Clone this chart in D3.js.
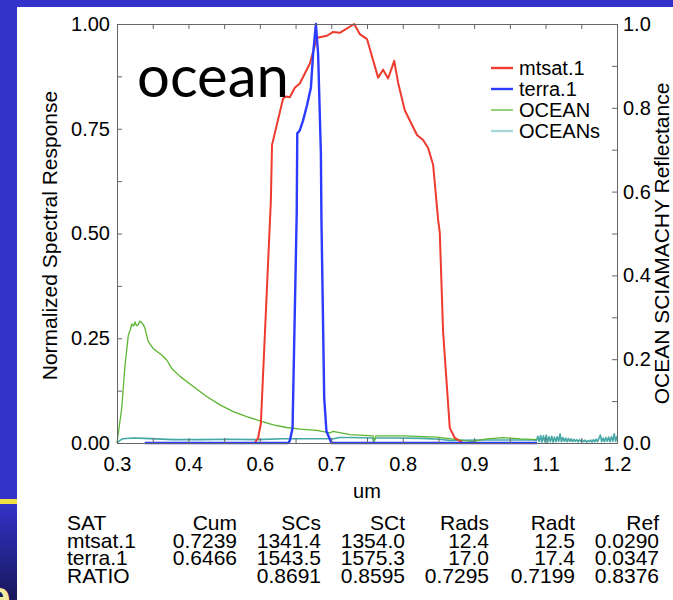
<!DOCTYPE html>
<html>
<head>
<meta charset="utf-8">
<script src="https://cdnjs.cloudflare.com/ajax/libs/d3/7.8.5/d3.min.js"></script>
<style>
	body { margin: 0; background: #fff; }
	svg text { font-family: "Liberation Sans", Arial, sans-serif; fill: #000; }
	.axis path, .axis line { stroke: #666; }
	.axis text { font-size: 20px; fill: #000; }
</style>
</head>
<body>
<div id="chartgoeshere"></div>
<script>
// Spectral response of mtsat.1 (wavelength um / normalized response)
var mtsatWl = [0.548, 0.554, 0.559, 0.577, 0.579, 0.599, 0.604, 0.611, 0.620, 0.629, 0.647, 0.660, 0.678, 0.689, 0.701, 0.727, 0.737, 0.750, 0.770, 0.779, 0.788, 0.799, 0.806, 0.818, 0.840, 0.851, 0.860, 0.869, 0.878, 0.881, 0.887, 0.899, 0.908, 0.923];
var mtsatResp = [0.000, 0.012, 0.047, 0.580, 0.711, 0.822, 0.827, 0.825, 0.848, 0.858, 0.905, 0.967, 0.972, 0.981, 0.979, 1.000, 0.976, 0.964, 0.872, 0.891, 0.870, 0.912, 0.860, 0.794, 0.735, 0.723, 0.704, 0.664, 0.533, 0.502, 0.265, 0.036, 0.012, 0.000];

// Spectral response of terra.1
var terraWl = [0.350, 0.608, 0.611, 0.616, 0.6235, 0.6245, 0.629, 0.635, 0.642, 0.649, 0.653, 0.658, 0.662, 0.667, 0.668, 0.673, 0.677, 0.686, 1.056];
var terraResp = [0.000, 0.000, 0.005, 0.036, 0.550, 0.739, 0.746, 0.770, 0.806, 0.848, 0.929, 1.000, 0.929, 0.692, 0.533, 0.107, 0.028, 0.000, 0.000];

// OCEAN SCIAMACHY reflectance
var oceanWl = [0.300, 0.3085, 0.3144, 0.3203, 0.3240, 0.3265, 0.3300, 0.3324, 0.3350, 0.3383, 0.3410, 0.3445, 0.3480, 0.3504, 0.3563, 0.3653, 0.3805, 0.3895, 0.3985, 0.4134, 0.4373, 0.4614, 0.4854, 0.5093, 0.5334, 0.5574, 0.5813, 0.6054, 0.6294, 0.6594, 0.6834, 0.6888, 0.7194, 0.7608, 0.7626, 0.7660, 0.8148, 0.8760, 0.9120, 0.9300, 0.9408, 0.9660, 0.9948, 1.0254, 1.0560];
var oceanRefl = [0.000, 0.083, 0.185, 0.257, 0.270, 0.284, 0.279, 0.289, 0.280, 0.282, 0.291, 0.287, 0.281, 0.273, 0.242, 0.225, 0.210, 0.198, 0.178, 0.159, 0.135, 0.111, 0.091, 0.075, 0.063, 0.053, 0.043, 0.037, 0.033, 0.030, 0.024, 0.028, 0.020, 0.017, 0.002, 0.017, 0.017, 0.014, 0.008, 0.005, 0.004, 0.010, 0.013, 0.010, 0.008];

// OCEANs reflectance
var oceansWl = [0.300, 0.305, 0.310, 0.330, 0.350, 0.400, 0.450, 0.500, 0.550, 0.600, 0.650, 0.690, 0.700, 0.720, 0.760, 0.762, 0.765, 0.800, 0.850, 0.880, 0.900, 0.950, 1.000, 1.050,
	1.0550, 1.0575, 1.0600, 1.0625, 1.0650, 1.0675, 1.0700, 1.0725, 1.0750, 1.0775, 1.0800, 1.0825, 1.0850, 1.0875, 1.0900, 1.0925, 1.0950, 1.0975, 1.1000, 1.1025,
	1.1050, 1.1075, 1.1100, 1.1125, 1.1150, 1.1175, 1.1200, 1.1225, 1.1250, 1.1275, 1.1300, 1.1325, 1.1350, 1.1375, 1.1400, 1.1425, 1.1450, 1.1475, 1.1500, 1.1525,
	1.1550, 1.1575, 1.1600, 1.1625, 1.1650, 1.1675, 1.1700, 1.1725, 1.1750, 1.1775, 1.1800, 1.1825, 1.1850, 1.1875, 1.1900, 1.1925, 1.1950, 1.1975, 1.2000];
var oceansRefl = [0.000, 0.006, 0.010, 0.012, 0.011, 0.008, 0.008, 0.009, 0.008, 0.010, 0.010, 0.010, 0.013, 0.013, 0.012, 0.004, 0.012, 0.012, 0.011, 0.009, 0.006, 0.007, 0.007, 0.007,
	0.006, 0.016, 0.003, 0.018, 0.002, 0.017, 0.003, 0.019, 0.002, 0.015, 0.003, 0.016, 0.002, 0.014, 0.003, 0.015, 0.004, 0.022, 0.003, 0.013,
	0.004, 0.012, 0.003, 0.011, 0.004, 0.010, 0.003, 0.009, 0.004, 0.008, 0.003, 0.008, 0.004, 0.007, 0.003, 0.007, 0.002, 0.006, 0.003, 0.007,
	0.002, 0.008, 0.003, 0.009, 0.003, 0.011, 0.019, 0.003, 0.012, 0.003, 0.013, 0.004, 0.014, 0.003, 0.015, 0.004, 0.022, 0.004, 0.016];

// Tick values and labels
var xTickVals = [0.3, 0.4286, 0.5571, 0.6857, 0.8143, 0.9429, 1.0714, 1.2];
var xTickLabels = ["0.3", "0.4", "0.6", "0.7", "0.8", "0.9", "1.1", "1.2"];
var yLeftTicks = [0, 0.25, 0.5, 0.75, 1.0];
var yRightTicks = [0, 0.2, 0.4, 0.6, 0.8, 1.0];

// Legend
var legendNames = ["mtsat.1", "terra.1", "OCEAN", "OCEANs"];
var legendColors = ["#ee3b2e", "#2b3bff", "#5cb531", "#a6d6d6"];

// Table under the chart
var tableHeader = ["SAT", "Cum", "SCs", "SCt", "Rads", "Radt", "Ref"];
var tableMtsat = ["mtsat.1", "0.7239", "1341.4", "1354.0", "12.4", "12.5", "0.0290"];
var tableTerra = ["terra.1", "0.6466", "1543.5", "1575.3", "17.0", "17.4", "0.0347"];
var tableRatio = ["RATIO", "", "0.8691", "0.8595", "0.7295", "0.7199", "0.8376"];

// Set chart size
var W = 673,
	H = 600;
var margin = {
		top: 24,
		right: 56,
		bottom: 157,
		left: 117
	},
	width = W - margin.left - margin.right,
	height = H - margin.top - margin.bottom;

// Set ranges
var x = d3.scaleLinear()
	.domain([0.3, 1.2])
	.range([0, width]);

var yL = d3.scaleLinear()
	.domain([0, 1])
	.range([height, 0]);

var yR = d3.scaleLinear()
	.domain([0, 1])
	.range([height, 0]);

var root = d3.select("#chartgoeshere")
	.append("svg")
	.attr("width", W)
	.attr("height", H);

// Slide background
root.append("rect")
	.attr("width", W)
	.attr("height", H)
	.attr("fill", "#fff");

var grad = root.append("defs")
	.append("linearGradient")
	.attr("id", "strip")
	.attr("x1", 0).attr("y1", 0).attr("x2", 0).attr("y2", 1);
grad.append("stop").attr("offset", "0%").attr("stop-color", "#3333c8");
grad.append("stop").attr("offset", "100%").attr("stop-color", "#17175a");

root.append("rect")
	.attr("width", W)
	.attr("height", 7)
	.attr("fill", "#3333cc");
root.append("rect")
	.attr("width", 17)
	.attr("height", 500)
	.attr("fill", "#3333cc");
root.append("rect")
	.attr("y", 504)
	.attr("width", 17)
	.attr("height", 96)
	.attr("fill", "url(#strip)");
root.append("rect")
	.attr("y", 499)
	.attr("width", 17)
	.attr("height", 5)
	.attr("fill", "#f0e040");
root.append("text")
	.attr("x", -14)
	.attr("y", 612)
	.style("font-size", "44px")
	.style("font-weight", "bold")
	.style("fill", "#f4e8a0")
	.text("e");

var svg = root.append("g")
	.attr("transform", "translate(" + margin.left + "," + margin.top + ")");

// Lines
var series = [
	{ wl: oceansWl, v: oceansRefl, color: "#45a8a6", w: 1.6 },
	{ wl: oceanWl, v: oceanRefl, color: "#5cb531", w: 1.3 },
	{ wl: mtsatWl, v: mtsatResp, color: "#ee3b2e", w: 2 },
	{ wl: terraWl, v: terraResp, color: "#2b3bff", w: 2.4 }
];

var line = d3.line()
	.x(function (d) { return x(d[0]); })
	.y(function (d) { return yL(d[1]); });

series.forEach(function (s) {
	svg.append("path")
		.datum(d3.zip(s.wl, s.v))
		.attr("fill", "none")
		.attr("stroke", s.color)
		.attr("stroke-width", s.w)
		.attr("stroke-linejoin", "round")
		.attr("d", line);
});

// Minor x ticks half way between the labelled ones
var xMinor = d3.pairs(xTickVals).map(function (p) { return (p[0] + p[1]) / 2; });

// Add the x axes
svg.append("g")
	.attr("class", "axis")
	.attr("transform", "translate(0," + height + ")")
	.call(d3.axisBottom(x)
		.tickValues(xTickVals)
		.tickFormat(function (d, i) { return xTickLabels[i]; })
		.tickSizeInner(-5)
		.tickSizeOuter(0)
		.tickPadding(14));

svg.append("g")
	.attr("class", "axis")
	.attr("transform", "translate(0," + height + ")")
	.call(d3.axisBottom(x).tickValues(xMinor).tickFormat("").tickSize(-5));

svg.append("g")
	.attr("class", "axis")
	.call(d3.axisTop(x)
		.tickValues(xTickVals.concat(xMinor))
		.tickFormat("")
		.tickSizeInner(-5)
		.tickSizeOuter(0));

// Add the y axes
svg.append("g")
	.attr("class", "axis")
	.call(d3.axisLeft(yL)
		.tickValues(yLeftTicks)
		.tickFormat(d3.format(".2f"))
		.tickSizeInner(-5)
		.tickSizeOuter(0)
		.tickPadding(7));

svg.append("g")
	.attr("class", "axis")
	.call(d3.axisLeft(yL).tickValues([0.125, 0.375, 0.625, 0.875]).tickFormat("").tickSize(-5));

svg.append("g")
	.attr("class", "axis")
	.attr("transform", "translate(" + width + ",0)")
	.call(d3.axisRight(yR)
		.tickValues(yRightTicks)
		.tickFormat(d3.format(".1f"))
		.tickSizeInner(-5)
		.tickSizeOuter(0)
		.tickPadding(6));

svg.append("g")
	.attr("class", "axis")
	.attr("transform", "translate(" + width + ",0)")
	.call(d3.axisRight(yR).tickValues([0.1, 0.3, 0.5, 0.7, 0.9]).tickFormat("").tickSize(-5));

svg.selectAll(".axis .domain").attr("stroke", "#666");

// Axis titles
svg.append("text")
	.attr("transform", "translate(" + (-60) + "," + (height / 2 + 2) + ") rotate(-90)")
	.attr("text-anchor", "middle")
	.style("font-size", "21px")
	.text("Normalized Spectral Response");

svg.append("text")
	.attr("transform", "translate(" + (width + 52) + "," + (height / 2 + 10) + ") rotate(-90)")
	.attr("text-anchor", "middle")
	.style("font-size", "21px")
	.text("OCEAN SCIAMACHY Reflectance");

svg.append("text")
	.attr("x", width / 2)
	.attr("y", height + 55)
	.attr("text-anchor", "middle")
	.style("font-size", "20px")
	.text("um");

// Big label
svg.append("text")
	.attr("x", 20)
	.attr("y", 73)
	.style("font-family", "Lato, 'Open Sans', sans-serif")
	.style("font-size", "58px")
	.text("ocean");

// Legend
var legend = svg.selectAll(".legend")
	.data(legendNames)
	.enter()
	.append("g")
	.attr("transform", function (d, i) {
		return "translate(374," + (44 + i * 21) + ")";
	});

legend.append("line")
	.attr("x1", 0)
	.attr("x2", 22)
	.attr("stroke", function (d, i) { return legendColors[i]; })
	.attr("stroke-width", function (d, i) { return i === 2 ? 1.3 : 2.4; });

legend.append("text")
	.attr("x", 28)
	.attr("y", 7)
	.style("font-size", "20px")
	.text(function (d) { return d; });

// Table
var colRight = [null, 237, 321, 405, 489, 575, 659];
var rows = [tableHeader, tableMtsat, tableTerra, tableRatio];

rows.forEach(function (row, r) {
	row.forEach(function (cell, c) {
		root.append("text")
			.attr("x", c === 0 ? 67 : colRight[c])
			.attr("y", 530 + r * 17.7)
			.attr("text-anchor", c === 0 ? "start" : "end")
			.style("font-size", "21px")
			.text(cell);
	});
});
</script>
</body>
</html>
